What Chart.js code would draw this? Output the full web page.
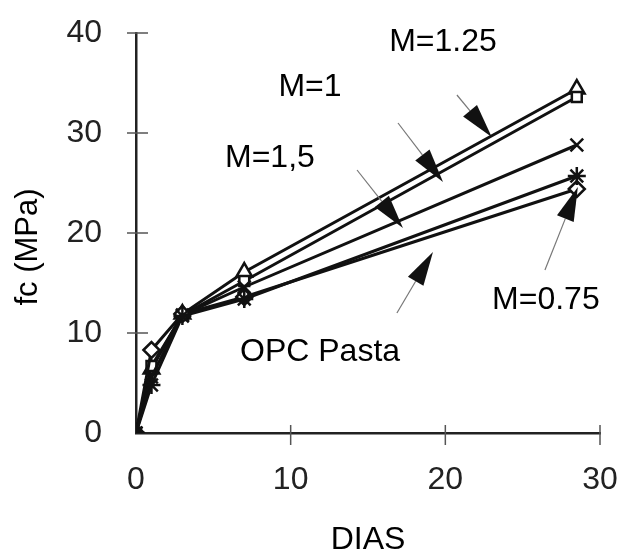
<!DOCTYPE html>
<html>
<head>
<meta charset="utf-8">
<title>fc vs DIAS</title>
<script src="https://cdn.jsdelivr.net/npm/chart.js@4.4.1/dist/chart.umd.min.js"></script>
<style>
  html, body { margin: 0; padding: 0; background: #fff; }
  #wrap { width: 636px; height: 556px; }
</style>
</head>
<body>
<div id="wrap"><canvas id="chart" width="636" height="556"></canvas></div>
<script>
// data
const days = [0, 1, 3, 7, 28.5];
const m125 = [0, 6.4, 11.9, 16.1, 34.4];   // triangle
const m1 = [0, 6.7, 11.8, 15.2, 33.6];     // square
const m15 = [0, 5.6, 11.8, 14.6, 28.8];    // cross
const opc = [0, 4.8, 11.7, 13.4, 25.7];    // asterisk
const m075 = [0, 8.3, 11.9, 13.6, 24.4];   // diamond

const xTicks = [0, 10, 20, 30];
const yTicks = [0, 10, 20, 30, 40];

// annotation texts and arrows, in data units (day, MPa)
const noteText = ['M=1.25', 'M=1', 'M=1,5', 'M=0.75', 'OPC Pasta'];
const noteAt = [[19.85, 39.1], [11.25, 34.6], [8.66, 27.5], [26.5, 13.3], [11.9, 8.1]];
const arrowFrom = [[20.75, 33.8], [16.94, 31.0], [14.29, 26.3], [26.44, 16.3], [16.87, 12.0]];
const arrowTo = [[23.0, 29.6], [19.85, 25.1], [17.26, 20.5], [28.57, 24.6], [19.2, 18.1]];

const FONT = '"Liberation Sans", Arial, Helvetica, sans-serif';

const pts = (ys) => days.map((d, i) => ({ x: d, y: ys[i] }));

const series = (label, ys, style, r) => ({
  label: label,
  data: pts(ys),
  borderColor: '#111',
  borderWidth: 3,
  pointStyle: style,
  pointRadius: r,
  pointBorderColor: '#111',
  pointBorderWidth: 2.5,
  // the markers at day 0 are all piled up and read as one black block
  pointBackgroundColor: (c) => (c.dataIndex === 0 ? '#111' : '#fff'),
  fill: false,
  tension: 0
});

// ticks that cross the axis lines, plus the y title
const crossTicks = {
  id: 'crossTicks',
  afterDraw(chart) {
    const { ctx, chartArea, scales } = chart;
    ctx.save();
    ctx.strokeStyle = '#555';
    ctx.lineWidth = 1.5;
    scales.y.ticks.forEach((t) => {
      if (t.value === 0) return;
      const py = scales.y.getPixelForValue(t.value);
      ctx.beginPath();
      ctx.moveTo(chartArea.left - 9, py);
      ctx.lineTo(chartArea.left + 12, py);
      ctx.stroke();
    });
    scales.x.ticks.forEach((t) => {
      if (t.value === 0) return;
      const px = scales.x.getPixelForValue(t.value);
      ctx.beginPath();
      ctx.moveTo(px, chartArea.bottom - 8);
      ctx.lineTo(px, chartArea.bottom + 12);
      ctx.stroke();
    });
    // y title sits a bit below the middle of the axis
    ctx.translate(28, (chartArea.top + chartArea.bottom) / 2 + 14);
    ctx.rotate(-Math.PI / 2);
    ctx.fillStyle = '#000';
    ctx.font = '31px ' + FONT;
    ctx.textAlign = 'center';
    ctx.textBaseline = 'middle';
    ctx.fillText('fc (MPa)', 0, 0);
    ctx.restore();
  }
};

// labels with their pointer arrows
const notes = {
  id: 'notes',
  afterDatasetsDraw(chart) {
    const { ctx, scales } = chart;
    const sx = scales.x, sy = scales.y;
    ctx.save();
    arrowFrom.forEach((f, i) => {
      const x0 = sx.getPixelForValue(f[0]), y0 = sy.getPixelForValue(f[1]);
      const x1 = sx.getPixelForValue(arrowTo[i][0]), y1 = sy.getPixelForValue(arrowTo[i][1]);
      const len = Math.hypot(x1 - x0, y1 - y0);
      const ux = (x1 - x0) / len, uy = (y1 - y0) / len;
      const head = 34, half = 9;
      const bx = x1 - ux * head, by = y1 - uy * head;
      ctx.strokeStyle = '#777';
      ctx.lineWidth = 1.2;
      ctx.beginPath();
      ctx.moveTo(x0, y0);
      ctx.lineTo(bx, by);
      ctx.stroke();
      ctx.fillStyle = '#111';
      ctx.beginPath();
      ctx.moveTo(x1, y1);
      ctx.lineTo(bx - uy * half, by + ux * half);
      ctx.lineTo(bx + uy * half, by - ux * half);
      ctx.closePath();
      ctx.fill();
    });
    ctx.fillStyle = '#000';
    ctx.font = '32px ' + FONT;
    ctx.textAlign = 'center';
    ctx.textBaseline = 'middle';
    noteText.forEach((t, i) => {
      ctx.fillText(t, sx.getPixelForValue(noteAt[i][0]), sy.getPixelForValue(noteAt[i][1]));
    });
    ctx.restore();
  }
};

new Chart(document.getElementById('chart'), {
  type: 'line',
  data: {
    datasets: [
      series('OPC Pasta', opc, 'star', 9),
      series('M=0.75', m075, 'rectRot', 8),
      series('M=1,5', m15, 'crossRot', 9),
      series('M=1', m1, 'rect', 7),
      series('M=1.25', m125, 'triangle', 9)
    ]
  },
  options: {
    responsive: false,
    animation: false,
    devicePixelRatio: 1,
    layout: { padding: { top: 33, right: 36, left: 0, bottom: 0 } },
    plugins: { legend: { display: false }, tooltip: { enabled: false } },
    scales: {
      x: {
        type: 'linear',
        min: 0,
        max: 30,
        afterBuildTicks: (s) => { s.ticks = xTicks.map((v) => ({ value: v })); },
        afterFit: (s) => { s.height = 123; },
        grid: { display: true, drawOnChartArea: false, drawTicks: true, tickLength: 20, tickColor: 'rgba(0,0,0,0)' },
        border: { display: true, color: '#222', width: 2.5 },
        ticks: { color: '#222', padding: 8, font: { family: FONT, size: 32 } },
        title: { display: true, text: 'DIAS', color: '#000', padding: { top: 0, bottom: -3 }, font: { family: FONT, size: 32 } }
      },
      y: {
        type: 'linear',
        min: 0,
        max: 40,
        afterBuildTicks: (s) => { s.ticks = yTicks.map((v) => ({ value: v })); },
        afterFit: (s) => { s.width = 136; },
        grid: { display: true, drawOnChartArea: false, drawTicks: true, tickLength: 26, tickColor: 'rgba(0,0,0,0)' },
        border: { display: true, color: '#222', width: 2.5 },
        ticks: { color: '#222', padding: 8, font: { family: FONT, size: 32 } },
        title: { display: false }
      }
    }
  },
  plugins: [crossTicks, notes]
});
</script>
</body>
</html>
